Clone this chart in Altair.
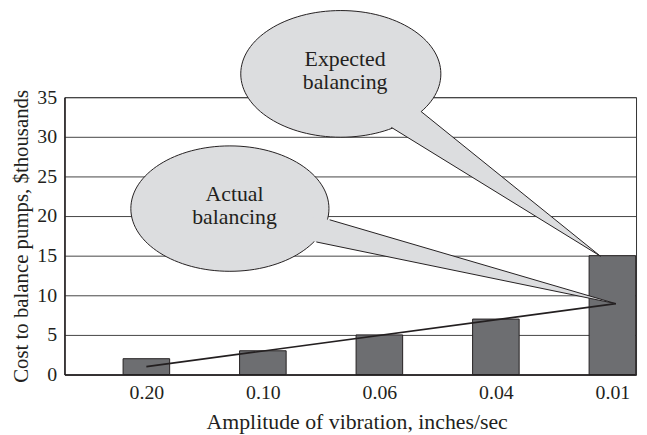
import altair as alt
import pandas as pd

# ---- chart data ----
amplitude_labels = ["0.20", "0.10", "0.06", "0.04", "0.01"]
cost_thousands = [2, 3, 5, 7, 15]
bar_index = [0, 1, 2, 3, 4]

# straight "actual balancing" line (end points)
line_index = [0.0, 4.03]
line_cost = [1.0, 8.95]

# ---- callout annotations (data units) ----
callout_names = ["Expected", "Actual"]
ellipse_cx = [1.669, 0.717]
ellipse_cy = [37.94, 20.94]
ellipse_size = [40804, 40000]

# tail polygon: centre, base 1, tip, base 2
tail_name = ["Expected"] * 4 + ["Actual"] * 4
tail_order = [0, 1, 2, 3] * 2
tail_x = [1.669, 2.103, 3.897, 2.358, 0.717, 1.573, 4.031, 1.459]
tail_y = [37.94, 31.19, 14.94, 33.19, 20.94, 19.53, 8.94, 16.73]

# tail outline: base 1, tip, base 2
edge_name = ["Expected"] * 3 + ["Actual"] * 3
edge_order = [0, 1, 2] * 2
edge_x = [2.103, 3.897, 2.358, 1.573, 4.031, 1.459]
edge_y = [31.19, 14.94, 33.19, 19.53, 8.94, 16.73]

note_text = ["Expected", "balancing", "Actual", "balancing"]
note_x = [1.706, 1.706, 0.757, 0.757]
note_y = [39.81, 36.94, 22.81, 19.81]

FONT = "Liberation Serif"
INK = "#231f20"
BUBBLE = "#dcdddf"
ELLIPSE = "M -1 0 A 1 0.633 0 1 1 1 0 A 1 0.633 0 1 1 -1 0 Z"

bars_df = pd.DataFrame({"i": bar_index, "cost": cost_thousands, "amp": amplitude_labels})
line_df = pd.DataFrame({"i": line_index, "cost": line_cost})
ell_df = pd.DataFrame({"name": callout_names, "i": ellipse_cx, "cost": ellipse_cy, "s": ellipse_size})
tail_df = pd.DataFrame({"name": tail_name, "o": tail_order, "i": tail_x, "cost": tail_y})
edge_df = pd.DataFrame({"name": edge_name, "o": edge_order, "i": edge_x, "cost": edge_y})
note_df = pd.DataFrame({"t": note_text, "i": note_x, "cost": note_y})

xs = alt.Scale(domain=[-0.703, 4.203], nice=False, zero=False, padding=0)
ys = alt.Scale(domain=[0, 35], nice=False, padding=0)

label_expr = "[" + ",".join("'%s'" % a for a in amplitude_labels) + "][datum.value]"

x_axis = alt.Axis(
    values=bar_index, labelExpr=label_expr, grid=False, ticks=False, tickSize=0,
    labelPadding=8, labelFontSize=20, labelFont=FONT, labelColor=INK,
    title="Amplitude of vibration, inches/sec", titleFont=FONT, titleFontSize=22,
    titleFontWeight="normal", titleColor=INK, titleX=295, titleY=54,
    titleBaseline="alphabetic", domainColor=INK, domainWidth=1.5,
)
y_axis = alt.Axis(
    values=[0, 5, 10, 15, 20, 25, 30, 35], format="d", grid=True, gridColor="#444444",
    gridWidth=1, ticks=False, tickSize=0, labelPadding=8, labelFontSize=20,
    labelFont=FONT, labelColor=INK,
    title="Cost to balance pumps, $thousands", titleFont=FONT, titleFontSize=21,
    titleFontWeight="normal", titleColor=INK, titleX=-37, titleY=140,
    titleAlign="center", titleBaseline="alphabetic", titleAngle=270,
    domainColor=INK, domainWidth=1.5,
)

X = alt.X("i:Q", scale=xs, axis=x_axis)
Y = alt.Y("cost:Q", scale=ys, axis=y_axis)

bars = alt.Chart(bars_df).mark_bar(size=47, color="#6d6e71", stroke=INK, strokeWidth=1).encode(
    x=X, y=Y,
)

trend = alt.Chart(line_df).mark_line(color=INK, strokeWidth=1.6).encode(x=X, y=Y)

ellipses = alt.Chart(ell_df).mark_point(
    shape=ELLIPSE, filled=True, fill=BUBBLE, stroke=INK, strokeWidth=1,
    opacity=1, fillOpacity=1,
).encode(
    x=X, y=Y,
    size=alt.Size("s:Q", scale=None, legend=None),
)

tails = alt.Chart(tail_df).mark_line(fill=BUBBLE, stroke=BUBBLE, strokeWidth=0, strokeOpacity=0).encode(
    x=X, y=Y,
    detail="name:N",
    order="o:Q",
)

edges = alt.Chart(edge_df).mark_line(color=INK, strokeWidth=1).encode(
    x=X, y=Y,
    detail="name:N",
    order="o:Q",
)

notes = alt.Chart(note_df).mark_text(
    font=FONT, fontSize=22, color=INK, align="center", baseline="middle"
).encode(
    x=X, y=Y,
    text="t:N",
)

chart = alt.layer(bars, trend, ellipses, tails, edges, notes).properties(
    width=577, height=280,
    padding={"left": 57, "top": 88, "right": 3, "bottom": 59},
    autosize=alt.AutoSizeParams(type="none"),
).configure(
    font=FONT,
).configure_axis(
    labelFont=FONT, titleFont=FONT,
).configure_scale(
    continuousPadding=0,
).configure_view(stroke="#333333", strokeWidth=1)

chart.save("out.html", embed_options={"renderer": "svg", "actions": False})
